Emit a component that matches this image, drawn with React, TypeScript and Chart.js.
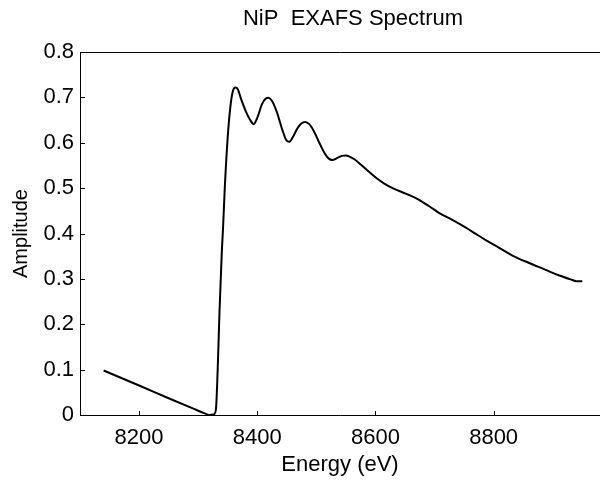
import { useEffect, useRef } from "react";
import { Chart, registerables } from "chart.js";

Chart.register(...registerables);

const energy = [
  8140, 8200, 8250, 8290, 8312, 8320, 8326, 8330, 8333, 8336, 8340, 8342, 8345,
  8350, 8355, 8359, 8363, 8367, 8373, 8381, 8388, 8394, 8400, 8408, 8414, 8419,
  8425, 8433, 8442, 8449, 8454, 8460, 8468, 8475, 8481, 8488, 8496, 8505, 8514,
  8521, 8527, 8535, 8543, 8550, 8557, 8565, 8575, 8590, 8601, 8615, 8629, 8651,
  8670, 8691, 8708, 8730, 8753, 8770, 8786, 8810, 8831, 8860, 8888, 8910, 8930,
  8940, 8950,
];
const amplitude = [
  0.098, 0.065, 0.037, 0.015, 0.003, 0.0, 0.001, 0.012, 0.1, 0.225, 0.36, 0.41, 0.5,
  0.613, 0.685, 0.715, 0.722, 0.718, 0.695, 0.668, 0.65, 0.641, 0.655, 0.685, 0.697, 0.699,
  0.692, 0.668, 0.63, 0.606, 0.602, 0.612, 0.632, 0.643, 0.646, 0.641, 0.625, 0.6, 0.577,
  0.565, 0.562, 0.566, 0.571, 0.572, 0.569, 0.563, 0.552, 0.535, 0.523, 0.51, 0.5, 0.488,
  0.477, 0.46, 0.445, 0.43, 0.413, 0.399, 0.386, 0.368, 0.352, 0.335, 0.32, 0.308, 0.299,
  0.295, 0.295,
];
const xTicks = [8200, 8400, 8600, 8800];
const yTicks = [0, 0.1, 0.2, 0.3, 0.4, 0.5, 0.6, 0.7, 0.8];
const yTickLabels = ["0", "0.1", "0.2", "0.3", "0.4", "0.5", "0.6", "0.7", "0.8"];
const titleText = "NiP  EXAFS Spectrum";
const xTitle = "Energy (eV)";
const yTitle = "Amplitude";

const FONT = "'Liberation Sans', Arial, Helvetica, sans-serif";

const framePlugin = {
  id: "frame",
  afterDraw(chart: any) {
    const { ctx, chartArea, scales } = chart;
    const { left, top, right, bottom } = chartArea;
    const x = scales.x;
    const y = scales.y;
    ctx.save();
    ctx.strokeStyle = "#000";
    ctx.lineWidth = 1;
    ctx.beginPath();
    ctx.moveTo(right, Math.round(top) + 0.5);
    ctx.lineTo(Math.round(left) + 0.5, Math.round(top) + 0.5);
    ctx.lineTo(Math.round(left) + 0.5, Math.round(bottom) + 0.5);
    ctx.lineTo(right, Math.round(bottom) + 0.5);
    for (const v of xTicks) {
      const px = Math.round(x.getPixelForValue(v)) + 0.5;
      ctx.moveTo(px, Math.round(bottom));
      ctx.lineTo(px, Math.round(bottom) - 4);
    }
    for (const v of yTicks) {
      const py = Math.round(y.getPixelForValue(v)) + 0.5;
      ctx.moveTo(Math.round(left), py);
      ctx.lineTo(Math.round(left) + 5, py);
    }
    ctx.stroke();
    // chart title, centred over the original (wider) plot frame
    ctx.fillStyle = "#000";
    ctx.font = `22px ${FONT}`;
    ctx.textAlign = "center";
    ctx.textBaseline = "middle";
    ctx.fillText(titleText, 353, 19);
    ctx.restore();
  },
};

export default function App() {
  const ref = useRef<HTMLCanvasElement>(null);
  useEffect(() => {
    if (!ref.current) return;
    const chart = new Chart(ref.current, {
      type: "line",
      data: {
        datasets: [
          {
            data: energy.map((e, i) => ({ x: e, y: amplitude[i] })),
            borderColor: "#000",
            borderWidth: 2,
            pointRadius: 0,
            fill: false,
            cubicInterpolationMode: "monotone",
          },
        ],
      },
      options: {
        animation: false,
        responsive: false,
        layout: { padding: { top: 52, left: 0, right: 0, bottom: 0 } },
        plugins: {
          legend: { display: false },
          tooltip: { enabled: false },
          title: { display: false },
        },
        scales: {
          x: {
            type: "linear",
            min: 8100,
            max: 8980,
            afterFit(scale: any) {
              scale.height = 65;
            },
            afterBuildTicks(scale: any) {
              scale.ticks = xTicks.map((v) => ({ value: v }));
            },
            grid: { display: false, drawTicks: false },
            border: { display: false },
            ticks: {
              color: "#000",
              padding: 10,
              maxRotation: 0,
              font: { family: FONT, size: 22 },
              callback: (v: any) => String(v),
            },
            title: {
              display: true,
              text: xTitle,
              color: "#000",
              font: { family: FONT, size: 22 },
              padding: { top: 0, bottom: 2 },
            },
          },
          y: {
            type: "linear",
            min: 0,
            max: 0.8,
            afterFit(scale: any) {
              scale.width = 80;
            },
            afterBuildTicks(scale: any) {
              scale.ticks = yTicks.map((v) => ({ value: v }));
            },
            grid: { display: false, drawTicks: false },
            border: { display: false },
            ticks: {
              color: "#000",
              padding: 6,
              font: { family: FONT, size: 22 },
              callback: (v: any) => {
                const i = yTicks.findIndex((t) => Math.abs(t - v) < 1e-9);
                return i >= 0 ? yTickLabels[i] : "";
              },
            },
            title: {
              display: true,
              text: yTitle,
              color: "#000",
              font: { family: FONT, size: 20 },
              padding: { top: 9, bottom: 0 },
            },
          },
        },
      },
      plugins: [framePlugin],
    } as any);
    return () => chart.destroy();
  }, []);
  return (
    <div style={{ position: "fixed", left: 0, top: 0, width: 600, height: 480, background: "#fff" }}>
      <canvas ref={ref} width={600} height={480} style={{ display: "block" }} />
    </div>
  );
}
